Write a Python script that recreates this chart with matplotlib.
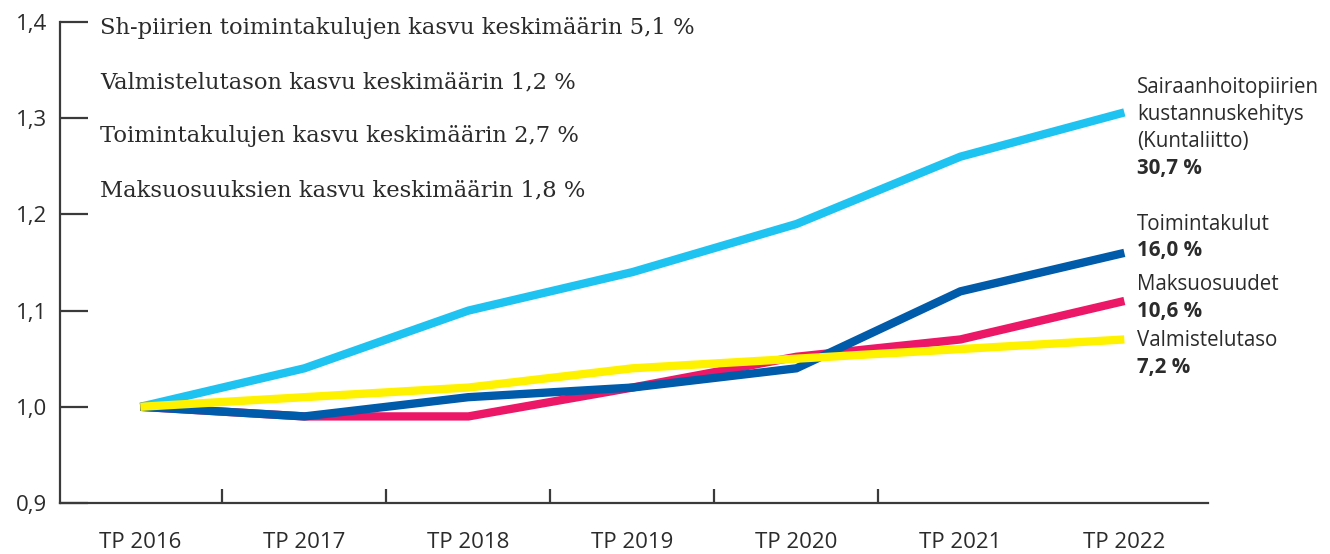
import matplotlib

matplotlib.use("Agg")
import matplotlib.pyplot as plt
import numpy as np
from matplotlib.ticker import FixedLocator, FuncFormatter

years = ["TP 2016", "TP 2017", "TP 2018", "TP 2019", "TP 2020", "TP 2021", "TP 2022"]

sairaanhoitopiirit = [1.00, 1.04, 1.10, 1.14, 1.19, 1.26, 1.306]
maksuosuudet = [1.00, 0.99, 0.99, 1.02, 1.052, 1.07, 1.11]
toimintakulut = [1.00, 0.99, 1.01, 1.02, 1.04, 1.12, 1.16]
valmistelutaso = [1.00, 1.01, 1.02, 1.04, 1.05, 1.06, 1.07]

averages = [
    "Sh-piirien toimintakulujen kasvu keskimäärin 5,1 %",
    "Valmistelutason kasvu keskimäärin 1,2 %",
    "Toimintakulujen kasvu keskimäärin 2,7 %",
    "Maksuosuuksien kasvu keskimäärin 1,8 %",
]

# (values, colour, name lines, value label, pixel offsets of the lines)
series = [
    (sairaanhoitopiirit, "#1fc3f2",
     ["Sairaanhoitopiirien", "kustannuskehitys", "(Kuntaliitto)"], "30,7 %",
     [25, -2, -29], -56),
    (maksuosuudet, "#ec1766", ["Maksuosuudet"], "10,6 %", [16], -11),
    (toimintakulut, "#005bab", ["Toimintakulut"], "16,0 %", [28], 2),
    (valmistelutaso, "#fff200", ["Valmistelutaso"], "7,2 %", [-1], -28),
]

sans = ["Open Sans", "DejaVu Sans"]
serif = ["DejaVu Serif"]
dark = "#2b2b2b"

fig = plt.figure(figsize=(13.3, 5.54), dpi=100)
ax = fig.add_axes([60 / 1330, 1 - 503 / 554, 1148 / 1330, 481 / 554])

x = np.arange(len(years))
for values, color, names, value, offsets, valueOffset in series:
    ax.plot(x, values, color=color, lw=6, solid_capstyle="butt",
            solid_joinstyle="miter", clip_on=False)
    for line, dy in zip(names, offsets):
        ax.annotate(line, xy=(x[-1], values[-1]), xytext=(13, dy),
                    textcoords="offset pixels", ha="left", va="center",
                    fontsize=14.8, family=sans, color=dark)
    ax.annotate(value, xy=(x[-1], values[-1]), xytext=(13, valueOffset),
                textcoords="offset pixels", ha="left", va="center",
                fontsize=14.8, family=sans, fontweight="bold", color=dark)

ax.set_xlim(-0.49, 6.51)
ax.set_ylim(0.9, 1.4)

for spine in ["top", "right"]:
    ax.spines[spine].set_visible(False)
for spine in ["left", "bottom"]:
    ax.spines[spine].set_color("#3a3a3a")
    ax.spines[spine].set_linewidth(1.6)

ax.yaxis.set_major_locator(FixedLocator([0.9, 1.0, 1.1, 1.2, 1.3, 1.4]))
ax.yaxis.set_major_formatter(FuncFormatter(lambda v, p: f"{v:.1f}".replace(".", ",")))
ax.tick_params(axis="y", direction="in", length=20, width=1.6, color="#3a3a3a",
               pad=9, labelsize=16, labelcolor=dark)

ax.set_xticks(x)
ax.set_xticklabels(years)
ax.set_xticks([0.5, 1.5, 2.5, 3.5, 4.5], minor=True)
ax.tick_params(axis="x", which="major", length=0, pad=21, labelsize=16,
               labelcolor=dark)
ax.tick_params(axis="x", which="minor", direction="in", length=10, width=1.6,
               color="#3a3a3a")
for label in ax.get_xticklabels() + ax.get_yticklabels():
    label.set_family(sans)

for i, text in enumerate(averages):
    ax.text(40 / 1148, (475 - 54 * i) / 481, text, transform=ax.transAxes,
            ha="left", va="center", fontsize=16.3, family=serif, color=dark)

fig.savefig("out.png", dpi=100)
